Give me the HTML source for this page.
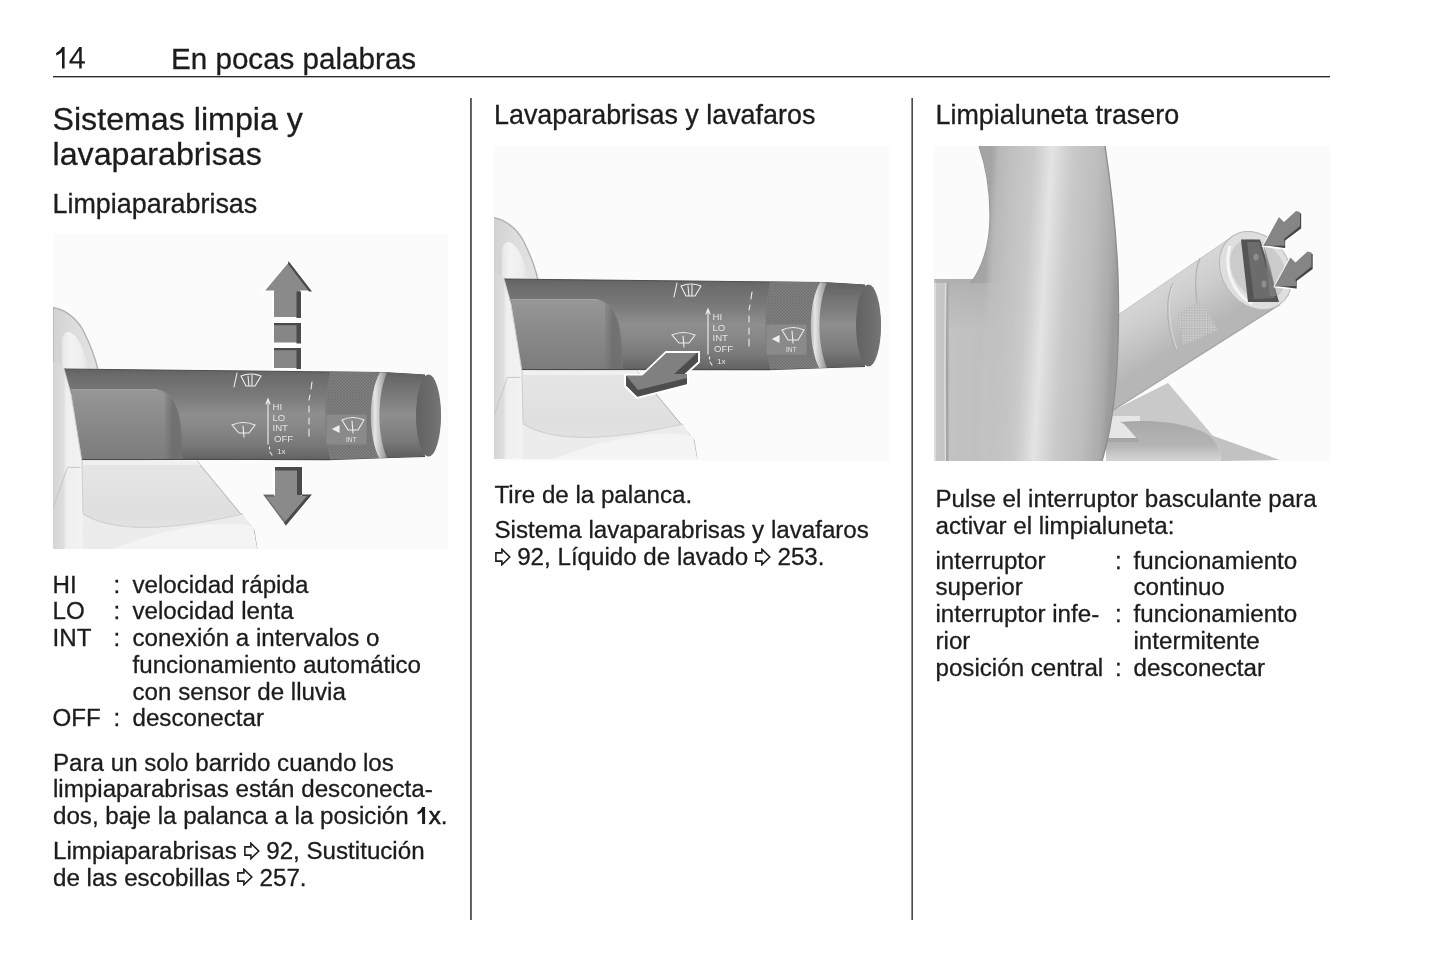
<!DOCTYPE html>
<html><head><meta charset="utf-8"><style>
html,body{margin:0;padding:0;background:#fff}
body{-webkit-font-smoothing:antialiased;filter:grayscale(1);width:1445px;height:965px;position:relative;overflow:hidden;font-family:"Liberation Sans",sans-serif;color:#1c1c1c}
.t{position:absolute;white-space:nowrap;line-height:1;-webkit-text-stroke:0.3px #1c1c1c}
.b{font-size:24.15px}
.h2{font-size:26.9px}
.h1{font-size:32.2px}
.hd{font-size:29.6px}
.rule{position:absolute;background:#222}
.vr{position:absolute;background:#505050;width:2px}
.img{position:absolute;background:#fbfbfb;overflow:hidden}
.ar{display:inline-block;width:16px;height:18px;vertical-align:-0.5px;margin-right:6.7px}
</style></head><body>
<!-- header -->
<svg style="position:absolute;left:0;top:0" width="100" height="80" viewBox="0 0 100 80"><path fill="#1c1c1c" d="M62.2,47 L64.6,47 L64.6,68.6 L62,68.6 L62,52 C60.6,53.4 58.6,54.6 56.2,55.4 L56.2,52.7 C58.7,51.7 60.9,49.6 62.2,47 Z"/><path fill="#1c1c1c" fill-rule="evenodd" d="M79.2,47 L81.7,47 L81.7,61.2 L84.9,61.2 L84.9,63.6 L81.7,63.6 L81.7,68.6 L79.2,68.6 L79.2,63.6 L69.4,63.6 L69.4,61.2 Z M79.2,50.6 L79.2,61.2 L72.1,61.2 Z"/></svg>
<div class="t hd" style="left:171px;top:43.5px">En pocas palabras</div>
<div class="rule" style="left:53px;top:76px;width:1277px;height:1px;background:#2a2a2a;box-shadow:0 1px 0 #b0b0b0"></div>
<div class="vr" style="left:470px;top:98px;height:822px;background:linear-gradient(to right,#555 50%,#6c6c6c 50%)"></div>
<div class="vr" style="left:911px;top:98px;height:822px;background:linear-gradient(to right,#8a8a8a 50%,#4a4a4a 50%)"></div>

<!-- column 1 -->
<div class="t h1" style="left:52.5px;top:102.7px">Sistemas limpia y</div>
<div class="t h1" style="left:52.5px;top:137.9px">lavaparabrisas</div>
<div class="t h2" style="left:52.5px;top:191.3px">Limpiaparabrisas</div>

<div class="img" id="img1" style="left:53px;top:234px;width:395px;height:315px"><svg width="395" height="315" viewBox="0 0 395 315" style="display:block">
<defs>
 <linearGradient id="lvba" x1="0" y1="0" x2="0" y2="1">
  <stop offset="0" stop-color="#626262"/><stop offset="0.08" stop-color="#6c6c6c"/>
  <stop offset="0.30" stop-color="#7a7a7a"/><stop offset="0.50" stop-color="#8e8e8e"/>
  <stop offset="0.62" stop-color="#898989"/><stop offset="0.85" stop-color="#777"/>
  <stop offset="1" stop-color="#626262"/>
 </linearGradient>
 <linearGradient id="slva" x1="0" y1="0" x2="0" y2="1">
  <stop offset="0" stop-color="#979797"/><stop offset="0.35" stop-color="#8d8d8d"/>
  <stop offset="1" stop-color="#7c7c7c"/>
 </linearGradient>
 <linearGradient id="slvra" x1="0" y1="0" x2="1" y2="0">
  <stop offset="0" stop-color="#8a8a8a" stop-opacity="0"/><stop offset="0.6" stop-color="#6a6a6a"/>
  <stop offset="1" stop-color="#6e6e6e"/>
 </linearGradient>
 <linearGradient id="capa" x1="0" y1="0" x2="0" y2="1">
  <stop offset="0" stop-color="#626262"/><stop offset="0.2" stop-color="#747474"/>
  <stop offset="0.5" stop-color="#8e8e8e"/><stop offset="0.8" stop-color="#7a7a7a"/>
  <stop offset="1" stop-color="#5e5e5e"/>
 </linearGradient>
 <linearGradient id="facea" x1="0" y1="0" x2="1" y2="0">
  <stop offset="0" stop-color="#626262"/><stop offset="0.6" stop-color="#6c6c6c"/><stop offset="1" stop-color="#767676"/>
 </linearGradient>
 <linearGradient id="ringa" x1="0" y1="0" x2="1" y2="0">
  <stop offset="0" stop-color="#b8b8b8"/><stop offset="0.25" stop-color="#e6e6e6"/>
  <stop offset="0.55" stop-color="#c4c4c4"/><stop offset="1" stop-color="#8e8e8e"/>
 </linearGradient>
 <pattern id="knurla" width="3" height="3" patternUnits="userSpaceOnUse">
  <rect width="3" height="3" fill="#808080"/><path d="M0 0L3 3M3 0L0 3" stroke="#6c6c6c" stroke-width="0.6"/>
 </pattern>
 <linearGradient id="archa" x1="0" y1="0" x2="1" y2="0">
  <stop offset="0" stop-color="#d2d2d2"/><stop offset="0.5" stop-color="#dddddd"/><stop offset="1" stop-color="#e2e2e2"/>
 </linearGradient>
 <linearGradient id="archina" x1="0" y1="0" x2="1" y2="0">
  <stop offset="0" stop-color="#e6e6e6"/><stop offset="0.3" stop-color="#f3f3f3"/><stop offset="0.7" stop-color="#eeeeee"/><stop offset="1" stop-color="#e0e0e0"/>
 </linearGradient>
 <linearGradient id="stripa" x1="0" y1="0" x2="1" y2="0">
  <stop offset="0" stop-color="#d4d4d4"/><stop offset="0.35" stop-color="#dedede"/><stop offset="0.45" stop-color="#efefef"/><stop offset="1" stop-color="#f3f3f3"/>
 </linearGradient>
 <linearGradient id="shra" x1="0" y1="0" x2="0" y2="1">
  <stop offset="0" stop-color="#e6e6e6"/><stop offset="0.6" stop-color="#dfdfdf"/>
  <stop offset="1" stop-color="#e6e6e6"/>
 </linearGradient>
</defs>
<g transform="translate(0,0)">
 <!-- shroud behind (top-left arch) -->
 <path d="M0,73.5 C10,75 22,82 30,96 C36,108 42,122 45,136 L0,136 Z" fill="url(#archa)" stroke="#b2b2b2" stroke-width="1.4"/>
 <path d="M9,136 L9,108 C9,101 12,97.5 16,98 C24,100 31,114 36,136 Z" fill="url(#archina)"/>
 <!-- shroud lower body -->
 <path d="M12,225 L144,227 L168,256 L201,296 L204,315 L0,315 L0,228 Z" fill="url(#shra)"/>
 <path d="M144,227 L168,256 L201,296 L204,315" fill="none" stroke="#a8a8a8" stroke-width="0.9"/>
 <path d="M30,227 L144,227 L147,231 L30,231 Z" fill="#f0f0f0"/>
 <path d="M29,279 C60,300 120,296 190,280 L200,296 L204,315 L0,315 L0,279 Z" fill="#ececec"/>
 <path d="M60,315 C100,300 150,284 200,292 L204,315 Z" fill="#f4f4f4"/>
 <path d="M29,279 C60,300 120,296 190,280" fill="none" stroke="#d0d0d0" stroke-width="1.2"/>
 <!-- lever body -->
 <path d="M11,135 L330,138.5 L372,141 L372,222.5 L330,223.6 L275,225.6 L11,225.3 Z" fill="url(#lvba)"/>
 <path d="M11,135 L330,138.5 L372,141" fill="none" stroke="#4e4e4e" stroke-width="1"/>
 <path d="M11,225.3 L275,225.6 L330,223.6 L372,222.5" fill="none" stroke="#4a4a4a" stroke-width="1.2"/>
 <!-- sleeve -->
 <path d="M18,155.5 L104,155.5 C118,157 126,172 128,193 L130,225 L28,225 Z" fill="url(#slva)"/>
 <path d="M104,155.5 C118,157 126,172 128,193 L130,225 L112,225 L112,160 Z" fill="url(#slvra)" opacity="0.8"/>
 <path d="M18,155.5 L104,155.5" stroke="#a2a2a2" stroke-width="1"/>
 <!-- knurled ring -->
 <path d="M277,137.5 L327,138.3 C316,160 316,200 326,224 L277,225.4 C271,200 271,165 277,137.5 Z" fill="url(#knurla)"/>
 <rect x="273.5" y="180.5" width="40" height="30" fill="#8a8a8a"/>
 <!-- end cap -->
 <path d="M333,138.5 L368,140.5 C380,146 388,162 388,181.5 C388,202 380,217 368,222.5 L333,223.8 C323,200 323,162 333,138.5 Z" fill="url(#capa)"/>
 <ellipse cx="375.5" cy="181.5" rx="12.5" ry="41" fill="url(#facea)"/>
 <!-- silver ring (crescent) -->
 <path d="M327,138.3 C315,160 315,200 326,224 L334,223.8 C324,200 324,162 334,138.5 Z" fill="url(#ringa)"/>
 <!-- symbols -->
 <g fill="none" stroke="#eeeeee" stroke-width="1.1" stroke-linecap="round">
  <path d="M181,153 L184,139"/>
  <path d="M188,142 Q198,138 208,142 L202,152 L193,152 Z M195,142 L196,152 M199,141 L199,152"/>
  <path d="M179,191 Q190,186 202,191 L196,199 L186,199 Z M190,192 L191,203"/>
  <path d="M215,210 L215,167 M213,170 L215,165 L217,170"/>
  <path d="M216.5,213 L216.5,215 M217,218 L219,221"/>
  <path d="M259,148 L258,155 M257,161 L256,166 M256,172 L256,178 M256,184 L256,190 M256,195 L256,202"/>
  <path d="M280,195 L286,192 L286,198 Z" fill="#eeeeee"/>
  <path d="M289,186 Q300,181 311,186 L305,196 L295,196 Z M299,187 L300,199"/>
 </g>
 <g fill="#e4e4e4" font-family="Liberation Sans" font-size="9.6">
  <text x="219.5" y="176">HI</text><text x="219.5" y="186.5">LO</text><text x="219.5" y="197.3">INT</text>
  <text x="221" y="208.4">OFF</text><text x="224" y="220.3" font-size="8">1x</text>
  <text x="293" y="208" font-size="6.5">INT</text>
 </g>
 <!-- left shroud strip in front of lever -->
 <path d="M0,128 C6,130 10,132 11,135 L18,160 L29,228 L30,315 L0,315 Z" fill="url(#stripa)"/>
 <path d="M11,135 L18,160 L29,228 L30,278" fill="none" stroke="#cfcfcf" stroke-width="1"/>
 <path d="M14.5,233.4 L27.6,233.4 M14.5,233.4 L0,274" stroke="#c0c0c0" stroke-width="0.8" fill="none"/>
</g>
 <g stroke="#fff" stroke-width="2" stroke-linejoin="miter">
  <path d="M235.5,27 L259,57.5 L248,57.5 L248,84 L220,84 L220,57.5 L210,57.5 Z" fill="#8a8a8a"/>
  <rect x="220" y="89" width="28" height="20.5" fill="#868686"/>
  <rect x="220" y="114" width="28" height="21" fill="#868686"/>
  <path d="M221,233 L249,233 L249,260.5 L259,260.5 L233,291.5 L210,260.5 L221,260.5 Z" fill="#8a8a8a"/>
 </g>
 <g fill="#4a4a4a">
  <path d="M235.5,27 L259,57.5 L256,57.5 L235,30 Z"/>
  <rect x="243.5" y="57.5" width="4.5" height="26.5"/>
  <rect x="243.5" y="89" width="4.5" height="20.5"/><rect x="221" y="89" width="27" height="2.2"/>
  <rect x="243.5" y="114" width="4.5" height="21"/><rect x="221" y="114" width="27" height="2.2"/>
  <rect x="222" y="233" width="27" height="3.5"/><rect x="244" y="233" width="5" height="28"/>
  <path d="M249,260.5 L259,260.5 L233,291.5 L231,289 L254,262 L249,262Z"/>
  <path d="M210,260.5 L221,260.5 L221,262.5 L213,262.5 L233,289 L233,291.5 Z" opacity="0.75"/>
 </g></svg></div>

<div class="t b" style="left:52.5px;top:572.8px">HI</div>
<div class="t b" style="left:52.5px;top:599.2px">LO</div>
<div class="t b" style="left:52.5px;top:626.1px">INT</div>
<div class="t b" style="left:52.5px;top:706.1px">OFF</div>
<div class="t b" style="left:113.5px;top:572.8px">:</div>
<div class="t b" style="left:113.5px;top:599.2px">:</div>
<div class="t b" style="left:113.5px;top:626.1px">:</div>
<div class="t b" style="left:113.5px;top:706.1px">:</div>
<div class="t b" style="left:132.5px;top:572.8px">velocidad rápida</div>
<div class="t b" style="left:132.5px;top:599.2px">velocidad lenta</div>
<div class="t b" style="left:132.5px;top:626.1px">conexión a intervalos o</div>
<div class="t b" style="left:132.5px;top:652.6px">funcionamiento automático</div>
<div class="t b" style="left:132.5px;top:679.5px">con sensor de lluvia</div>
<div class="t b" style="left:132.5px;top:706.1px">desconectar</div>

<div class="t b" style="left:53px;top:750.8px">Para un solo barrido cuando los</div>
<div class="t b" style="left:53px;top:777.2px">limpiaparabrisas están desconecta-</div>
<div class="t b" style="left:53px;top:803.8px">dos, baje la palanca a la posición <svg width="13.4" height="18" viewBox="0 0 13.4 18" style="vertical-align:0;display:inline-block"><path fill="#1c1c1c" d="M7.1,0.9 L10.1,0.9 L10.1,18 L7.1,18 L7.1,5.8 C5.9,7.1 4.3,8 2.5,8.6 L2.5,6 C4.6,5.2 6.2,3.3 7.1,0.9 Z"/></svg><span style="-webkit-text-stroke:0.6px #1c1c1c">x</span>.</div>
<div class="t b" style="left:53px;top:839px">Limpiaparabrisas <svg class="ar" viewBox="0 0 16 18"><path d="M0.9 4.9H6.9V1.3L14.8 9L6.9 16.7V13.1H0.9Z" fill="none" stroke="#1c1c1c" stroke-width="1.6" stroke-linejoin="miter"/></svg>92, Sustitución</div>
<div class="t b" style="left:53px;top:865.6px">de las escobillas <svg class="ar" viewBox="0 0 16 18"><path d="M0.9 4.9H6.9V1.3L14.8 9L6.9 16.7V13.1H0.9Z" fill="none" stroke="#1c1c1c" stroke-width="1.6" stroke-linejoin="miter"/></svg>257.</div>

<!-- column 2 -->
<div class="t h2" style="left:494px;top:101.5px">Lavaparabrisas y lavafaros</div>
<div class="img" id="img2" style="left:494px;top:146px;width:395px;height:315px"><svg width="395" height="315" viewBox="0 0 395 315" style="display:block">
<defs>
 <linearGradient id="lvbb" x1="0" y1="0" x2="0" y2="1">
  <stop offset="0" stop-color="#626262"/><stop offset="0.08" stop-color="#6c6c6c"/>
  <stop offset="0.30" stop-color="#7a7a7a"/><stop offset="0.50" stop-color="#8e8e8e"/>
  <stop offset="0.62" stop-color="#898989"/><stop offset="0.85" stop-color="#777"/>
  <stop offset="1" stop-color="#626262"/>
 </linearGradient>
 <linearGradient id="slvb" x1="0" y1="0" x2="0" y2="1">
  <stop offset="0" stop-color="#979797"/><stop offset="0.35" stop-color="#8d8d8d"/>
  <stop offset="1" stop-color="#7c7c7c"/>
 </linearGradient>
 <linearGradient id="slvrb" x1="0" y1="0" x2="1" y2="0">
  <stop offset="0" stop-color="#8a8a8a" stop-opacity="0"/><stop offset="0.6" stop-color="#6a6a6a"/>
  <stop offset="1" stop-color="#6e6e6e"/>
 </linearGradient>
 <linearGradient id="capb" x1="0" y1="0" x2="0" y2="1">
  <stop offset="0" stop-color="#626262"/><stop offset="0.2" stop-color="#747474"/>
  <stop offset="0.5" stop-color="#8e8e8e"/><stop offset="0.8" stop-color="#7a7a7a"/>
  <stop offset="1" stop-color="#5e5e5e"/>
 </linearGradient>
 <linearGradient id="faceb" x1="0" y1="0" x2="1" y2="0">
  <stop offset="0" stop-color="#626262"/><stop offset="0.6" stop-color="#6c6c6c"/><stop offset="1" stop-color="#767676"/>
 </linearGradient>
 <linearGradient id="ringb" x1="0" y1="0" x2="1" y2="0">
  <stop offset="0" stop-color="#b8b8b8"/><stop offset="0.25" stop-color="#e6e6e6"/>
  <stop offset="0.55" stop-color="#c4c4c4"/><stop offset="1" stop-color="#8e8e8e"/>
 </linearGradient>
 <pattern id="knurlb" width="3" height="3" patternUnits="userSpaceOnUse">
  <rect width="3" height="3" fill="#808080"/><path d="M0 0L3 3M3 0L0 3" stroke="#6c6c6c" stroke-width="0.6"/>
 </pattern>
 <linearGradient id="archb" x1="0" y1="0" x2="1" y2="0">
  <stop offset="0" stop-color="#d2d2d2"/><stop offset="0.5" stop-color="#dddddd"/><stop offset="1" stop-color="#e2e2e2"/>
 </linearGradient>
 <linearGradient id="archinb" x1="0" y1="0" x2="1" y2="0">
  <stop offset="0" stop-color="#e6e6e6"/><stop offset="0.3" stop-color="#f3f3f3"/><stop offset="0.7" stop-color="#eeeeee"/><stop offset="1" stop-color="#e0e0e0"/>
 </linearGradient>
 <linearGradient id="stripb" x1="0" y1="0" x2="1" y2="0">
  <stop offset="0" stop-color="#d4d4d4"/><stop offset="0.35" stop-color="#dedede"/><stop offset="0.45" stop-color="#efefef"/><stop offset="1" stop-color="#f3f3f3"/>
 </linearGradient>
 <linearGradient id="shrb" x1="0" y1="0" x2="0" y2="1">
  <stop offset="0" stop-color="#e6e6e6"/><stop offset="0.6" stop-color="#dfdfdf"/>
  <stop offset="1" stop-color="#e6e6e6"/>
 </linearGradient>
</defs>
<g transform="translate(-1,-2)">
 <!-- shroud behind (top-left arch) -->
 <path d="M0,73.5 C10,75 22,82 30,96 C36,108 42,122 45,136 L0,136 Z" fill="url(#archb)" stroke="#b2b2b2" stroke-width="1.4"/>
 <path d="M9,136 L9,108 C9,101 12,97.5 16,98 C24,100 31,114 36,136 Z" fill="url(#archinb)"/>
 <!-- shroud lower body -->
 <path d="M12,225 L144,227 L168,256 L201,296 L204,315 L0,315 L0,228 Z" fill="url(#shrb)"/>
 <path d="M144,227 L168,256 L201,296 L204,315" fill="none" stroke="#a8a8a8" stroke-width="0.9"/>
 <path d="M30,227 L144,227 L147,231 L30,231 Z" fill="#f0f0f0"/>
 <path d="M29,279 C60,300 120,296 190,280 L200,296 L204,315 L0,315 L0,279 Z" fill="#ececec"/>
 <path d="M60,315 C100,300 150,284 200,292 L204,315 Z" fill="#f4f4f4"/>
 <path d="M29,279 C60,300 120,296 190,280" fill="none" stroke="#d0d0d0" stroke-width="1.2"/>
 <!-- lever body -->
 <path d="M11,135 L330,138.5 L372,141 L372,222.5 L330,223.6 L275,225.6 L11,225.3 Z" fill="url(#lvbb)"/>
 <path d="M11,135 L330,138.5 L372,141" fill="none" stroke="#4e4e4e" stroke-width="1"/>
 <path d="M11,225.3 L275,225.6 L330,223.6 L372,222.5" fill="none" stroke="#4a4a4a" stroke-width="1.2"/>
 <!-- sleeve -->
 <path d="M18,155.5 L104,155.5 C118,157 126,172 128,193 L130,225 L28,225 Z" fill="url(#slvb)"/>
 <path d="M104,155.5 C118,157 126,172 128,193 L130,225 L112,225 L112,160 Z" fill="url(#slvrb)" opacity="0.8"/>
 <path d="M18,155.5 L104,155.5" stroke="#a2a2a2" stroke-width="1"/>
 <!-- knurled ring -->
 <path d="M277,137.5 L327,138.3 C316,160 316,200 326,224 L277,225.4 C271,200 271,165 277,137.5 Z" fill="url(#knurlb)"/>
 <rect x="273.5" y="180.5" width="40" height="30" fill="#8a8a8a"/>
 <!-- end cap -->
 <path d="M333,138.5 L368,140.5 C380,146 388,162 388,181.5 C388,202 380,217 368,222.5 L333,223.8 C323,200 323,162 333,138.5 Z" fill="url(#capb)"/>
 <ellipse cx="375.5" cy="181.5" rx="12.5" ry="41" fill="url(#faceb)"/>
 <!-- silver ring (crescent) -->
 <path d="M327,138.3 C315,160 315,200 326,224 L334,223.8 C324,200 324,162 334,138.5 Z" fill="url(#ringb)"/>
 <!-- symbols -->
 <g fill="none" stroke="#eeeeee" stroke-width="1.1" stroke-linecap="round">
  <path d="M181,153 L184,139"/>
  <path d="M188,142 Q198,138 208,142 L202,152 L193,152 Z M195,142 L196,152 M199,141 L199,152"/>
  <path d="M179,191 Q190,186 202,191 L196,199 L186,199 Z M190,192 L191,203"/>
  <path d="M215,210 L215,167 M213,170 L215,165 L217,170"/>
  <path d="M216.5,213 L216.5,215 M217,218 L219,221"/>
  <path d="M259,148 L258,155 M257,161 L256,166 M256,172 L256,178 M256,184 L256,190 M256,195 L256,202"/>
  <path d="M280,195 L286,192 L286,198 Z" fill="#eeeeee"/>
  <path d="M289,186 Q300,181 311,186 L305,196 L295,196 Z M299,187 L300,199"/>
 </g>
 <g fill="#e4e4e4" font-family="Liberation Sans" font-size="9.6">
  <text x="219.5" y="176">HI</text><text x="219.5" y="186.5">LO</text><text x="219.5" y="197.3">INT</text>
  <text x="221" y="208.4">OFF</text><text x="224" y="220.3" font-size="8">1x</text>
  <text x="293" y="208" font-size="6.5">INT</text>
 </g>
 <!-- left shroud strip in front of lever -->
 <path d="M0,128 C6,130 10,132 11,135 L18,160 L29,228 L30,315 L0,315 Z" fill="url(#stripb)"/>
 <path d="M11,135 L18,160 L29,228 L30,278" fill="none" stroke="#cfcfcf" stroke-width="1"/>
 <path d="M14.5,233.4 L27.6,233.4 M14.5,233.4 L0,274" stroke="#c0c0c0" stroke-width="0.8" fill="none"/>
</g>
 <path d="M172,206 L205,206 L205,216 L192,228 L194,228 L194,239 L143,252 L131,240 L131,229 L148,229 Z" fill="#4d4d4d" stroke="#fff" stroke-width="2"/>
 <path d="M172.5,207 L203,207 L180,228 L193,228 L193,232 L144,244 L132,229.5 L148.5,229.5 Z" fill="#808080"/></svg></div>
<div class="t b" style="left:494.5px;top:483.4px">Tire de la palanca.</div>
<div class="t b" style="left:494.5px;top:517.7px">Sistema lavaparabrisas y lavafaros</div>
<div class="t b" style="left:494.5px;top:545.1px"><svg class="ar" viewBox="0 0 16 18"><path d="M0.9 4.9H6.9V1.3L14.8 9L6.9 16.7V13.1H0.9Z" fill="none" stroke="#1c1c1c" stroke-width="1.6" stroke-linejoin="miter"/></svg>92, Líquido de lavado <svg class="ar" viewBox="0 0 16 18"><path d="M0.9 4.9H6.9V1.3L14.8 9L6.9 16.7V13.1H0.9Z" fill="none" stroke="#1c1c1c" stroke-width="1.6" stroke-linejoin="miter"/></svg>253.</div>

<!-- column 3 -->
<div class="t h2" style="left:935.5px;top:101.5px">Limpialuneta trasero</div>
<div class="img" id="img3" style="left:934px;top:146px;width:396px;height:315px"><svg width="396" height="315" viewBox="0 0 396 315" style="display:block">
<defs>
 <linearGradient id="rim" gradientUnits="userSpaceOnUse" x1="40" y1="84" x2="186" y2="92.7">
  <stop offset="0.09" stop-color="#a4a4a4"/><stop offset="0.14" stop-color="#b8b8b8"/>
  <stop offset="0.24" stop-color="#c1c1c1"/><stop offset="0.375" stop-color="#cacaca"/>
  <stop offset="0.45" stop-color="#d9d9d9"/><stop offset="0.50" stop-color="#e4e4e4"/>
  <stop offset="0.56" stop-color="#d8d8d8"/><stop offset="0.65" stop-color="#c9c9c9"/>
  <stop offset="0.82" stop-color="#bdbdbd"/><stop offset="0.945" stop-color="#ababab"/>
  <stop offset="0.99" stop-color="#9c9c9c"/>
 </linearGradient>
 <linearGradient id="hub" x1="0" y1="0" x2="1" y2="0">
  <stop offset="0" stop-color="#c8c8c8"/><stop offset="1" stop-color="#bcbcbc"/>
 </linearGradient>
 <linearGradient id="stalk" gradientUnits="userSpaceOnUse" x1="230" y1="120" x2="270" y2="185">
  <stop offset="0" stop-color="#dadada"/><stop offset="0.45" stop-color="#cfcfcf"/>
  <stop offset="1" stop-color="#b6b6b6"/>
 </linearGradient>
 <linearGradient id="dish" x1="0" y1="0" x2="0" y2="1">
  <stop offset="0" stop-color="#a9a9a9"/><stop offset="0.6" stop-color="#b4b4b4"/>
  <stop offset="1" stop-color="#d6d6d6"/>
 </linearGradient>
 <linearGradient id="hubfade" gradientUnits="userSpaceOnUse" x1="14" y1="0" x2="80" y2="0">
  <stop offset="0" stop-color="#c2c2c2" stop-opacity="1"/><stop offset="0.55" stop-color="#c4c4c4" stop-opacity="0.85"/>
  <stop offset="1" stop-color="#c6c6c6" stop-opacity="0"/>
 </linearGradient>
 <linearGradient id="hubv" gradientUnits="userSpaceOnUse" x1="0" y1="137" x2="0" y2="185">
  <stop offset="0" stop-color="#fff" stop-opacity="0.5"/><stop offset="1" stop-color="#fff" stop-opacity="1"/>
 </linearGradient>
 <mask id="hubm"><rect x="0" y="137" width="396" height="178" fill="url(#hubv)"/></mask>
 <pattern id="mesh" width="2.6" height="2.6" height="2.6" patternUnits="userSpaceOnUse">
  <rect width="2.6" height="2.6" fill="#cacaca"/><rect width="1.2" height="1.2" fill="#a6a6a6"/>
 </pattern>
</defs>
<!-- base under stalk -->
<path d="M172,268 L234,237 L274,284 L287,300 L172,300 Z" fill="#c9c9c9"/>
<path d="M172,292 L206,292 L206,296 L172,296 Z" fill="#8e8e8e" opacity="0.6"/>
<path d="M172,270 L206,270 L206,292 L172,292 Z" fill="#e6e6e6"/>
<path d="M186,276 C228,272 262,280 276,290 C284,298 287,306 287,315 L172,315 L172,296 L206,296 L190,278 Z" fill="url(#dish)"/>
<path d="M274,288 L346,314 L287,315 C287,305 283,296 274,288 Z" fill="#c2c2c2"/>
<!-- stalk -->
<path d="M184,169 L298,90.8 L346,158.4 L178,265 Z" fill="url(#stalk)"/>
<path d="M178,265 L346,158.4" stroke="#a4a4a4" stroke-width="1.2" fill="none"/>
<path d="M184,169 L298,90.8" stroke="#c4c4c4" stroke-width="1" fill="none"/>
<path d="M239,137 C232,150 231,175 241,204" fill="none" stroke="#b4b4b4" stroke-width="1.3"/>
<path d="M240,138 C234,150 233,175 243,203" fill="none" stroke="#e0e0e0" stroke-width="0.8"/>
<path d="M266,112 C260,125 259,160 271,184" fill="none" stroke="#b2b2b2" stroke-width="1.3"/>
<path d="M244,167 L266,154 L284,184 L249,199 Z" fill="url(#mesh)" opacity="0.9"/>
<ellipse cx="321.7" cy="124.6" rx="33.4" ry="41.5" transform="rotate(-35.4 321.7 124.6)" fill="#dedede" stroke="#b8b8b8" stroke-width="1"/>
<ellipse cx="324" cy="123.5" rx="25" ry="33" transform="rotate(-35.4 324 123.5)" fill="#cbcbcb"/>
<path d="M296,100 C290,120 296,145 318,158" fill="none" stroke="#f6f6f6" stroke-width="3"/>
<path d="M307,93.4 L326,93.4 L345,156 L314,156 Z" fill="#545454"/>
<path d="M313,96 L325,96 L341,152 L320,153 Z" fill="#6c6c6c"/>
<path d="M330,100 L337,124 L343,150 L336,150 Z" fill="#7e7e7e" opacity="0.8"/>
<ellipse cx="322" cy="111" rx="2.5" ry="3.5" fill="#8e8e8e"/>
<ellipse cx="330" cy="138" rx="2.5" ry="3.5" fill="#8e8e8e"/>
<!-- hub / spoke on left -->
<path d="M0,133 L45,133 L45,315 L0,315 Z" fill="url(#hub)"/>
<path d="M1,134 L1,315" stroke="#e4e4e4" stroke-width="1.5"/>
<path d="M13.5,137 C12.5,200 12.5,260 13.5,315" stroke="#a2a2a2" stroke-width="1.4" fill="none"/>
<path d="M11.5,137 C10.5,200 10.5,260 11.5,315" stroke="#dedede" stroke-width="1.2" fill="none"/>
<path d="M0,133 L40,133 L36,137 L0,137 Z" fill="#9a9a9a" opacity="0.45"/>
<!-- steering wheel rim -->
<path d="M45,0 L171,0 C177,40 182,80 184,130 C186,200 182,270 168,315 L12,315 L14,137 L37,137 C49,120 56,100 56,70 C56,40 52,20 45,0 Z" fill="url(#rim)"/>
<path d="M14.5,137 L80,137 L80,315 L14.5,315 Z" fill="url(#hubfade)" mask="url(#hubm)"/>
<path d="M45,0 C52,20 56,40 56,70 C56,100 49,120 37,137" fill="none" stroke="#9a9a9a" stroke-width="1.2"/>
<path d="M171,0 C177,40 182,80 184,130 C186,200 182,270 168,315" fill="none" stroke="#8e8e8e" stroke-width="1.4"/>
<!-- arrows -->
<g>
 <path d="M329,100 L345,71 L350,76 L362,65 L368,67 L368,83 L352,95 L352,103 Z" fill="#474747" stroke="#fff" stroke-width="1.6"/>
 <path d="M329,100 L345,71 L350,76 L362,65 L366,66 L366,80 L350,93 L351,99.5 Z" fill="#858585"/>
</g>
<g transform="translate(11.5,40.5)">
 <path d="M329,100 L345,71 L350,76 L362,65 L368,67 L368,83 L352,95 L352,103 Z" fill="#474747" stroke="#fff" stroke-width="1.6"/>
 <path d="M329,100 L345,71 L350,76 L362,65 L366,66 L366,80 L350,93 L351,99.5 Z" fill="#858585"/>
</g>
</svg></div>
<div class="t b" style="left:935.5px;top:487.2px">Pulse el interruptor basculante para</div>
<div class="t b" style="left:935.5px;top:513.5px">activar el limpialuneta:</div>
<div class="t b" style="left:935.5px;top:548.6px">interruptor</div>
<div class="t b" style="left:935.5px;top:575.2px">superior</div>
<div class="t b" style="left:935.5px;top:602.35px">interruptor infe-</div>
<div class="t b" style="left:935.5px;top:628.95px">rior</div>
<div class="t b" style="left:935.5px;top:655.85px">posición central</div>
<div class="t b" style="left:1115px;top:548.6px">:</div>
<div class="t b" style="left:1115px;top:602.35px">:</div>
<div class="t b" style="left:1115px;top:655.85px">:</div>
<div class="t b" style="left:1133.5px;top:548.6px">funcionamiento</div>
<div class="t b" style="left:1133.5px;top:575.2px">continuo</div>
<div class="t b" style="left:1133.5px;top:602.35px">funcionamiento</div>
<div class="t b" style="left:1133.5px;top:628.95px">intermitente</div>
<div class="t b" style="left:1133.5px;top:655.85px">desconectar</div>
</body></html>
